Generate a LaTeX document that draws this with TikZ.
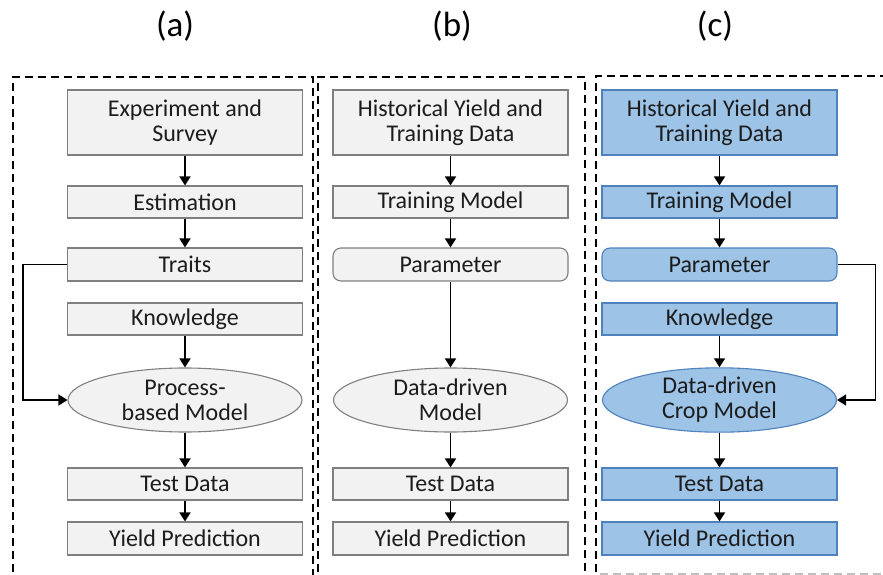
\documentclass[tikz,border=0pt]{standalone}
\usepackage{fontspec}
\setmainfont{Carlito}
\usetikzlibrary{arrows.meta, positioning, shapes.geometric}

\definecolor{boxgray}{HTML}{F2F2F2}
\definecolor{edgegray}{HTML}{7F7F7F}
\definecolor{boxblue}{HTML}{9DC3E6}
\definecolor{edgeblue}{HTML}{4F81BD}
\definecolor{inkgray}{HTML}{1C1C1C}

\begin{document}
\begin{tikzpicture}[x=1pt, y=-1pt,
		every node/.style={text=inkgray, font=\fontsize{24}{25}\selectfont, align=center},
		graybox/.style={rectangle, draw=edgegray, fill=boxgray, line width=1.1pt, minimum width=235pt, inner sep=0pt},
		bluebox/.style={graybox, draw=edgeblue, fill=boxblue},
		grayoval/.style={ellipse, draw=edgegray, fill=boxgray, line width=1.1pt, minimum width=234pt, minimum height=64pt, inner sep=0pt},
		blueoval/.style={grayoval, draw=edgeblue, fill=boxblue},
		frame/.style={draw=black, line width=1.8pt, dash pattern=on 8pt off 5pt},
		flow/.style={draw=black, line width=1.6pt, -{Triangle[length=9pt, width=11pt]}},
		title/.style={font=\fontsize{35}{38}\selectfont, text=black}]
	\clip (0,0) rectangle (883,575);
	\useasboundingbox (0,0) rectangle (883,575);

	% dashed frames round the three columns
	\draw[frame] (13,585) -- (13,77) -- (313,77) -- (313,585);
	\draw[frame] (318,585) -- (318,77) -- (585,77) -- (585,585);
	\draw[frame] (596,585) -- (596,76) -- (895,76);
	\draw[frame, draw=black!25] (600,574) -- (883,574);

	\node[title] (ta) at (175,26) {(a)};
	\node[title] (tb) at (452,26) {(b)};
	\node[title] (tc) at (715,26) {(c)};

	% (a) process-based
	\node[graybox, minimum height=65pt] (expsurvey) at (185,122.5) {Experiment and\\Survey};
	\node[graybox, minimum height=32pt] (estim) at (185,202) {Estimation};
	\node[graybox, minimum height=33pt] (traits) at (185,264.5) {Traits};
	\node[graybox, minimum height=32pt] (know1) at (185,319) {Knowledge};
	\node[grayoval] (procmodel) at (185,400) {Process-\\based Model};
	\node[graybox, minimum height=32pt] (test1) at (185,484) {Test Data};
	\node[graybox, minimum height=33pt] (yield1) at (185,538.5) {Yield Prediction};

	\draw[flow] (expsurvey) -- (estim);
	\draw[flow] (estim) -- (traits);
	\draw[flow] (know1) -- (procmodel);
	\draw[flow] (traits.west) -- ++(-44,0) |- (procmodel.west);
	\draw[flow] (procmodel) -- (test1);
	\draw[flow] (test1) -- (yield1);

	% (b) data-driven
	\node[graybox, minimum height=65pt] (hist2) at (450.5,122.5) {Historical Yield and\\Training Data};
	\node[graybox, minimum height=32pt] (train2) at (450.5,202) {Training Model};
	\node[graybox, rounded corners=8pt, minimum height=33pt] (param2) at (450.5,264.5) {Parameter};
	\node[grayoval] (ddmodel) at (450.5,400) {Data-driven\\Model};
	\node[graybox, minimum height=32pt] (test2) at (450.5,484) {Test Data};
	\node[graybox, minimum height=33pt] (yield2) at (450.5,538.5) {Yield Prediction};

	\draw[flow] (hist2) -- (train2);
	\draw[flow] (train2) -- (param2);
	\draw[flow] (param2) -- (ddmodel);
	\draw[flow] (ddmodel) -- (test2);
	\draw[flow] (test2) -- (yield2);

	% (c) data-driven crop model
	\node[bluebox, minimum height=65pt] (hist3) at (719.5,122.5) {Historical Yield and\\Training Data};
	\node[bluebox, minimum height=32pt] (train3) at (719.5,202) {Training Model};
	\node[bluebox, rounded corners=8pt, minimum height=33pt] (param3) at (719.5,264.5) {Parameter};
	\node[bluebox, minimum height=32pt] (know3) at (719.5,319) {Knowledge};
	\node[blueoval] (cropmodel) at (719.5,400) {Data-driven\\Crop Model};
	\node[bluebox, minimum height=32pt] (test3) at (719.5,484) {Test Data};
	\node[bluebox, minimum height=33pt] (yield3) at (719.5,538.5) {Yield Prediction};

	\draw[flow] (hist3) -- (train3);
	\draw[flow] (train3) -- (param3);
	\draw[flow] (know3) -- (cropmodel);
	\draw[flow] (param3.east) -- ++(38,0) |- (cropmodel.east);
	\draw[flow] (cropmodel) -- (test3);
	\draw[flow] (test3) -- (yield3);
\end{tikzpicture}
\end{document}
